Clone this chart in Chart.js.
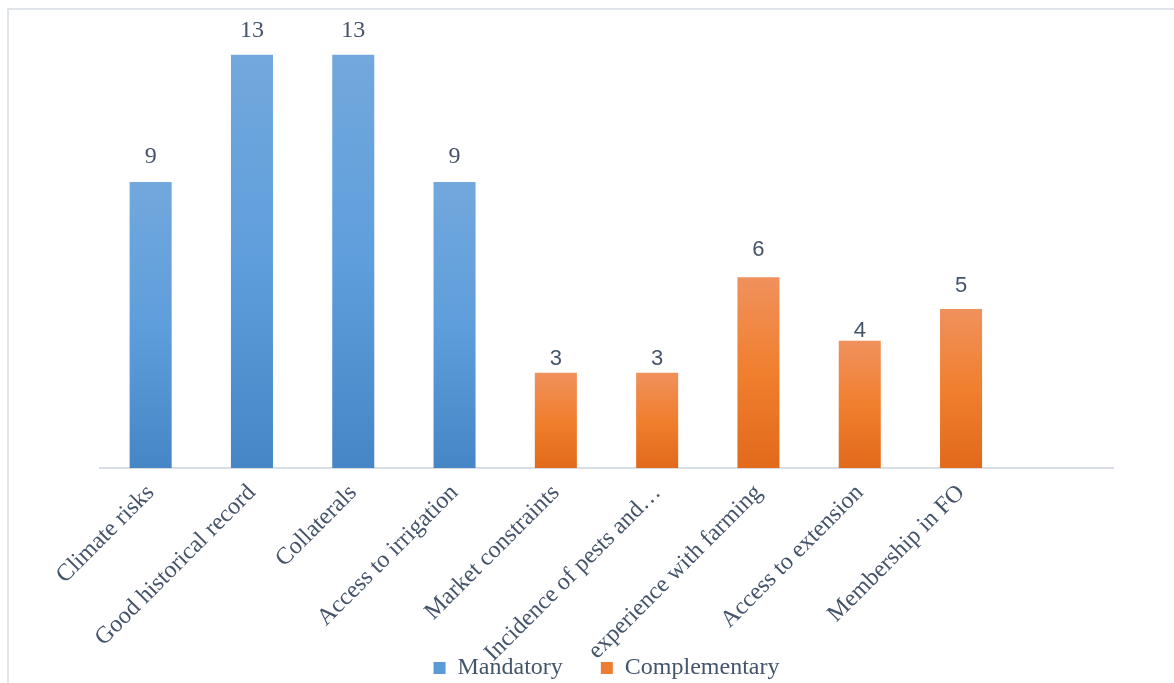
<!DOCTYPE html>
<html>
<head>
<meta charset="utf-8">
<script src="https://cdn.jsdelivr.net/npm/chart.js@4.4.1/dist/chart.umd.min.js"></script>
<style>
    html, body { margin: 0; padding: 0; background: #fff; }
    #wrap { position: relative; width: 1174px; height: 683px; overflow: hidden; }
    #frame {
        position: absolute; left: 7px; top: 8px; width: 1200px; height: 700px;
        border-left: 2px solid #dfe4ea; border-top: 2px solid #dfe4ea;
        box-sizing: border-box; pointer-events: none;
    }
    canvas { position: absolute; left: 0; top: 0; }
</style>
</head>
<body>
<div id="wrap">
    <canvas id="chart" width="1174" height="683"></canvas>
    <div id="frame"></div>
</div>
<script>
const categories = [
    'Climate risks', 'Good historical record', 'Collaterals', 'Access to irrigation',
    'Market constraints', 'Incidence of pests and\u2026', 'experience with farming',
    'Access to extension', 'Membership in FO', ''
];
const mandatory = [9, 13, 13, 9, null, null, null, null, null, null];
const complementary = [null, null, null, null, 3, 3, 6, 4, 5, null];

// gap (px) between bar top and value label centre
const labelGap = [25, 24, 24, 25, 14, 14, 27, 10, 23, 0];

const textColor = '#44546a';
const serif = '"Liberation Serif", "Times New Roman", serif';
const labelFonts = ['24px ' + serif, '22px "Liberation Sans", Arial, sans-serif'];

function barGradient(top, bottom) {
    return function (context) {
        const chart = context.chart;
        const value = context.raw;
        if (!chart.chartArea || value == null) return top[1];
        const y = chart.scales.y;
        const y0 = y.getPixelForValue(value);
        const y1 = y.getPixelForValue(0);
        const g = chart.ctx.createLinearGradient(0, y0, 0, y1);
        g.addColorStop(0, top[0]);
        g.addColorStop(0.5, top[1]);
        g.addColorStop(1, bottom);
        return g;
    };
}

const valueLabels = {
    id: 'valueLabels',
    // let the slanted category names run down past the axis box
    afterLayout(chart) {
        chart.scales.x.bottom = chart.height;
    },
    afterDatasetsDraw(chart) {
        const ctx = chart.ctx;
        ctx.save();
        ctx.fillStyle = textColor;
        ctx.textAlign = 'center';
        ctx.textBaseline = 'middle';
        chart.data.datasets.forEach((ds, di) => {
            ctx.font = labelFonts[di];
            chart.getDatasetMeta(di).data.forEach((bar, i) => {
                const v = ds.data[i];
                if (v == null) return;
                ctx.fillText(String(v), bar.x, bar.y - labelGap[i]);
            });
        });
        ctx.restore();
    }
};

new Chart(document.getElementById('chart'), {
    type: 'bar',
    data: {
        labels: categories,
        datasets: [
            {
                label: 'Mandatory',
                data: mandatory,
                backgroundColor: barGradient(['#72a8dc', '#5f9edc'], '#4686c6'),
                legendColor: '#5b9bd5'
            },
            {
                label: 'Complementary',
                data: complementary,
                backgroundColor: barGradient(['#f0915c', '#f07f2e'], '#e2691b'),
                legendColor: '#ed7d31'
            }
        ]
    },
    options: {
        responsive: false,
        animation: false,
        devicePixelRatio: 1,
        layout: { padding: { left: 100, right: 61, top: 23, bottom: -7 } },
        datasets: {
            bar: { categoryPercentage: 1, barPercentage: 0.415 }
        },
        scales: {
            x: {
                stacked: true,
                grid: { display: false },
                border: { color: '#d9dee5', width: 2 },
                ticks: {
                    color: textColor,
                    font: { family: serif, size: 24 },
                    maxRotation: 45,
                    minRotation: 45,
                    autoSkip: false,
                    padding: 3
                },
                afterFit(scale) {
                    scale.height = 150;
                }
            },
            y: {
                stacked: true,
                display: false,
                min: 0,
                max: 14
            }
        },
        plugins: {
            tooltip: { enabled: false },
            legend: {
                position: 'bottom',
                labels: {
                    color: textColor,
                    font: { family: serif, size: 24 },
                    boxWidth: 12,
                    boxHeight: 12,
                    padding: 38,
                    generateLabels(chart) {
                        return chart.data.datasets.map((ds, i) => ({
                            text: ds.label,
                            fillStyle: ds.legendColor,
                            strokeStyle: ds.legendColor,
                            lineWidth: 0,
                            fontColor: textColor,
                            datasetIndex: i
                        }));
                    }
                }
            }
        }
    },
    plugins: [valueLabels]
});
</script>
</body>
</html>
